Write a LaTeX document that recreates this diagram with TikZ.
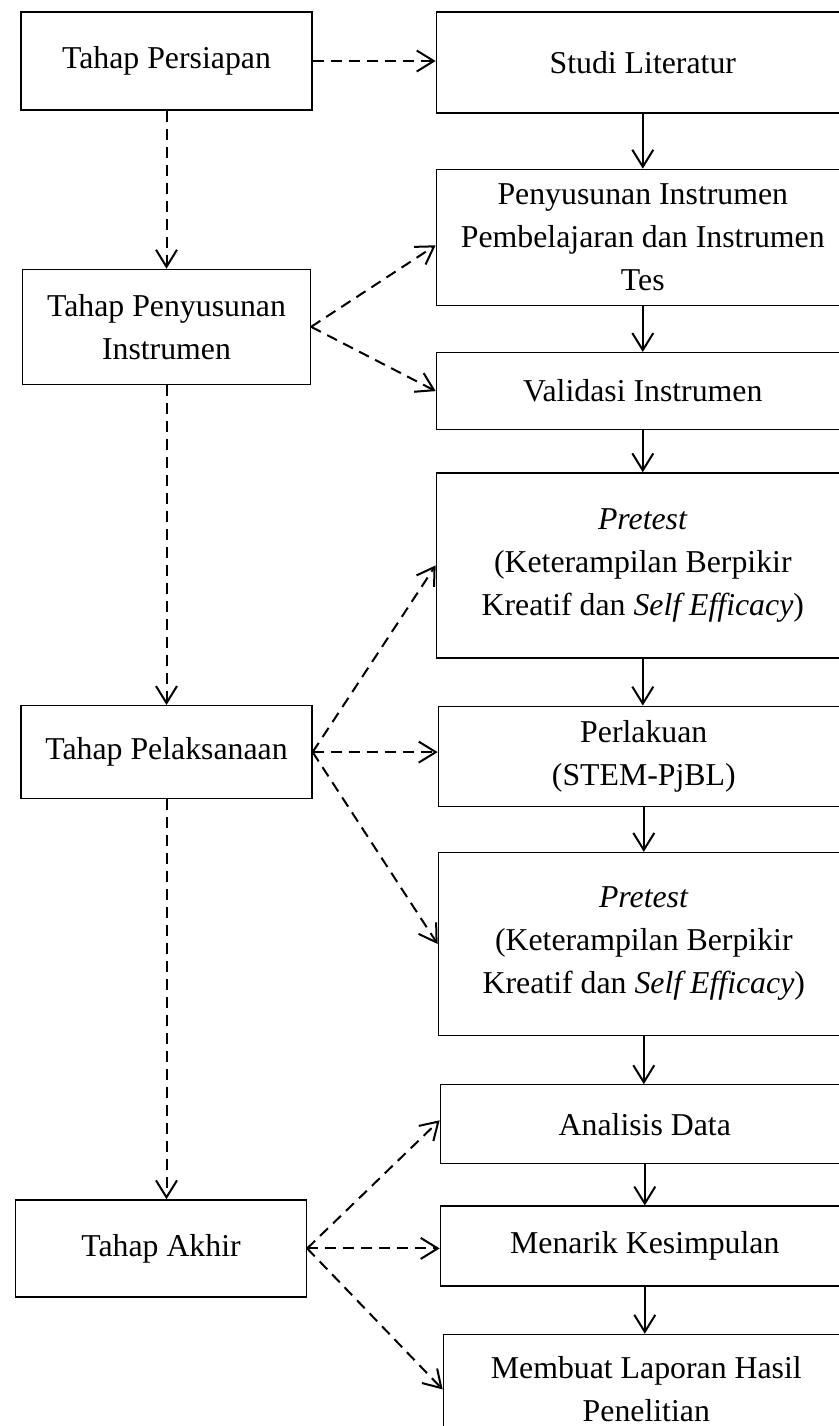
\documentclass[tikz,border=0pt]{standalone}
\usepackage{fontspec}
\setmainfont{Liberation Serif}
\usetikzlibrary{arrows.meta,positioning}

\begin{document}
\begin{tikzpicture}[
  node distance=23pt and 61.5pt,
  box/.style={draw, line width=0.65pt, align=center, inner sep=2pt, font=\fontsize{15.9pt}{21.5pt}\selectfont},
  tahap/.style={box, minimum width=145.5pt},
  langkah/.style={box, minimum width=206.5pt},
  arr/.style={-{Straight Barb[length=8.5pt,width=10.5pt]}, line width=1pt},
  darr/.style={arr, dash pattern=on 5.5pt off 3.5pt}
]
\useasboundingbox (0,0) rectangle (419.5pt,-713pt);

\node[tahap, minimum height=49pt] (persiapan) at (83.25pt,-30.5pt) {Tahap Persiapan};
\node[tahap, minimum width=144pt, minimum height=57.5pt, below=79pt of persiapan] (penyusunan) {Tahap Penyusunan\\Instrumen};
\node[tahap, minimum height=46.5pt, below=160pt of penyusunan] (pelaksanaan) {Tahap Pelaksanaan};
\node[tahap, minimum height=48.5pt, below=200pt of pelaksanaan, xshift=-2.75pt] (akhir) {Tahap Akhir};

\node[langkah, minimum height=50.5pt, right=61.5pt of persiapan, yshift=-0.75pt] (studi) {Studi Literatur};
\node[langkah, minimum height=68pt, below=27.5pt of studi.south east, anchor=north east] (instr) {Penyusunan Instrumen\\Pembelajaran dan Instrumen\\Tes};
\node[langkah, minimum height=38.5pt, below=23pt of instr.south east, anchor=north east] (validasi) {Validasi Instrumen};
\node[langkah, minimum height=92.5pt, below=21pt of validasi.south east, anchor=north east] (pretestA) {\textit{Pretest}\\(Keterampilan Berpikir\\Kreatif dan \textit{Self Efficacy})};
\node[langkah, minimum width=205.5pt, minimum height=50pt, below=23.5pt of pretestA.south east, anchor=north east] (perlakuan) {Perlakuan\\(STEM-PjBL)};
\node[langkah, minimum width=205.5pt, minimum height=91.5pt, below=22.5pt of perlakuan.south east, anchor=north east] (pretestB) {\textit{Pretest}\\(Keterampilan Berpikir\\Kreatif dan \textit{Self Efficacy})};
\node[langkah, minimum width=204.5pt, minimum height=39.5pt, below=24pt of pretestB.south east, anchor=north east] (analisis) {Analisis Data};
\node[langkah, minimum width=204.5pt, minimum height=40pt, below=20.5pt of analisis.south east, anchor=north east] (simpulan) {Menarik Kesimpulan};
\node[langkah, minimum width=203pt, minimum height=55pt, below=23.5pt of simpulan.south east, anchor=north east] (laporan) {Membuat Laporan Hasil\\Penelitian};

\draw[arr] (studi.south) -- (studi.south |- instr.north);
\draw[arr] (instr.south) -- (instr.south |- validasi.north);
\draw[arr] (validasi.south) -- (validasi.south |- pretestA.north);
\draw[arr] (pretestA.south) -- (pretestA.south |- perlakuan.north);
\draw[arr] (perlakuan.south) -- (perlakuan.south |- pretestB.north);
\draw[arr] (pretestB.south) -- (pretestB.south |- analisis.north);
\draw[arr] (analisis.south) -- (analisis.south |- simpulan.north);
\draw[arr] (simpulan.south) -- (simpulan.south |- laporan.north);

\draw[darr] (persiapan.south) -- (persiapan.south |- penyusunan.north);
\draw[darr] (penyusunan.south) -- (penyusunan.south |- pelaksanaan.north);
\draw[darr] (pelaksanaan.south) -- (pelaksanaan.south |- akhir.north);

\draw[darr] (persiapan.east) -- (persiapan.east -| studi.west);
\draw[darr] (penyusunan.east) -- ([yshift=-4pt]instr.west);
\draw[darr] (penyusunan.east) -- (validasi.west);
\draw[darr] (pelaksanaan.east) -- (pretestA.west);
\draw[darr] (pelaksanaan.east) -- (pelaksanaan.east -| perlakuan.west);
\draw[darr] (pelaksanaan.east) -- (pretestB.west);
\draw[darr] (akhir.east) -- ([yshift=2pt]analisis.west);
\draw[darr] (akhir.east) -- (akhir.east -| simpulan.west);
\draw[darr] (akhir.east) -- (laporan.west);
\end{tikzpicture}
\end{document}
